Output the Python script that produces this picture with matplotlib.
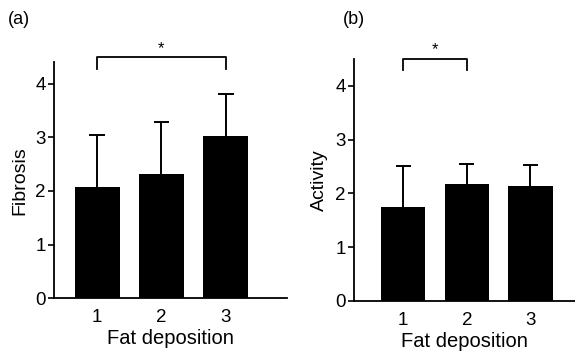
import matplotlib
matplotlib.use("Agg")
import matplotlib.pyplot as plt

plt.rcParams['font.family'] = ['Liberation Sans', 'DejaVu Sans']
plt.rcParams['font.size'] = 13

groups = [1, 2, 3]
fibrosis_mean = [2.07, 2.32, 3.02]
fibrosis_err = [0.98, 0.96, 0.78]
activity_mean = [1.75, 2.17, 2.14]
activity_err = [0.76, 0.37, 0.38]
yticks = [0, 1, 2, 3, 4]


def draw_panel(ax, means, errs, ylabel, ylim, xlim, bracket, label, label_x):
    ax.bar(groups, means, width=0.7, color='black')
    # one-sided error bars (upper only)
    tops = [m + e for m, e in zip(means, errs)]
    ax.vlines(groups, means, tops, color='black', lw=1.4)
    ax.hlines(tops, [g - 0.12 for g in groups], [g + 0.12 for g in groups],
              color='black', lw=1.4)
    ax.set_ylim(*ylim)
    ax.set_xlim(*xlim)
    ax.set_yticks(yticks)
    ax.set_xticks(groups)
    ax.tick_params(axis='x', length=0, pad=8, labelsize=13.5)
    ax.tick_params(axis='y', length=4, width=1.2, labelsize=13.5, pad=2)
    for s in ['top', 'right']:
        ax.spines[s].set_visible(False)
    for s in ['left', 'bottom']:
        ax.spines[s].set_linewidth(1.3)
    ax.set_ylabel(ylabel, fontsize=14, labelpad=5)
    ax.set_xlabel('Fat deposition', fontsize=14.5, labelpad=2)

    # significance bracket
    x0, x1, ytop, ybot = bracket
    ax.plot([x0, x0, x1, x1], [ybot, ytop, ytop, ybot], color='black',
            lw=1.3, clip_on=False)
    ax.text((x0 + x1) / 2, ytop + 0.03, '*', ha='center', va='bottom',
            fontsize=12, clip_on=False)
    ax.figure.text(label_x, 1 - 19 / 352, label, fontsize=13, ha='left', va='center')


fig = plt.figure(figsize=(5.75, 3.52), dpi=100)
ax1 = fig.add_axes([0.094, 0.153, 0.405, 0.670])
ax2 = fig.add_axes([0.616, 0.145, 0.384, 0.6875])

draw_panel(ax1, fibrosis_mean, fibrosis_err, 'Fibrosis', (0, 4.4), (0.33, 3.95),
           (1, 3, 4.49, 4.28), '(a)', 8 / 575)
draw_panel(ax2, activity_mean, activity_err, 'Activity', (0, 4.5), (0.23, 3.7),
           (1, 2, 4.5, 4.29), '(b)', 343 / 575)

fig.savefig('out.png', dpi=100)
